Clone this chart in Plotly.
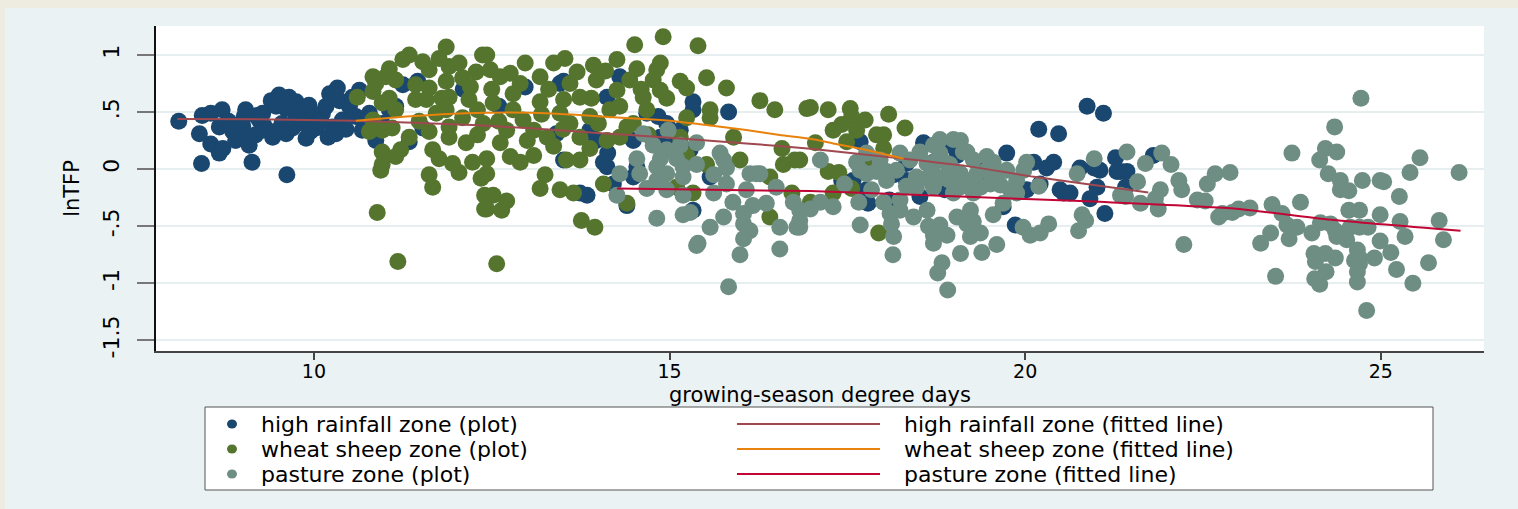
import plotly.graph_objects as go

# ---------------- data ----------------
hr_x = [8.10, 8.39, 8.43, 8.55, 8.71, 8.55, 8.67, 8.67, 8.72, 8.42, 8.86, 8.90, 9.04, 9.02, 9.09,
        8.99, 9.18, 9.28, 9.13, 9.23, 9.28, 9.40, 9.51, 9.65, 9.61, 9.47, 9.61, 9.42, 9.62, 9.75,
        9.84, 9.75, 9.89, 9.93, 10.03, 9.98, 10.12, 10.17, 10.22, 10.33, 10.31, 10.26, 10.40, 10.36,
        10.50, 10.54, 10.64, 10.59, 10.68, 10.78, 10.87, 10.96, 11.06, 11.15, 11.34, 11.46, 11.53,
        11.25, 9.30, 9.55, 9.70, 9.85, 10.10, 10.20, 9.95, 10.45, 9.20, 8.80, 9.00, 9.45,
        11.44, 12.97, 13.46, 13.51, 13.51, 13.41, 13.84, 13.74, 14.07, 14.12, 14.40, 14.49, 14.54,
        14.21, 15.33, 15.33, 15.83, 14.84, 14.96, 15.15, 15.33, 15.57, 15.29, 15.24, 13.88, 13.97,
        14.49, 14.30, 14.12, 14.68, 14.87, 15.05, 14.13, 12.10, 12.60,
        20.87, 21.10, 20.19, 20.47, 18.57, 19.74, 21.27, 17.42, 17.68, 18.15, 18.33, 18.71, 19.04,
        19.46, 19.60, 19.69, 19.86, 20.12, 20.30, 20.40, 20.02, 20.21, 20.49, 20.63, 20.77, 20.91,
        21.05, 21.01, 21.12, 21.34, 21.41, 18.52, 17.77, 17.58, 21.29, 21.43, 21.80, 17.79, 18.98,
        18.87, 19.33, 18.33, 18.09, 20.97, 20.54]
hr_y = [0.42, 0.31, 0.47, 0.49, 0.52, 0.22, 0.37, 0.14, 0.18, 0.05, 0.33, 0.25, 0.52, 0.46, 0.21,
        0.30, 0.30, 0.34, 0.06, 0.43, 0.49, 0.60, 0.65, 0.63, 0.53, 0.55, 0.31, 0.28, -0.05, 0.59,
        0.52, 0.45, 0.27, 0.56, 0.36, 0.46, 0.49, 0.55, 0.66, 0.71, 0.31, 0.37, 0.43, 0.60,
        0.55, 0.63, 0.69, 0.46, 0.34, 0.49, 0.25, 0.40, 0.52, 0.55, 0.24, 0.77, 0.36,
        0.74, 0.38, 0.40, 0.36, 0.40, 0.42, 0.28, 0.33, 0.35, 0.47, 0.42, 0.38, 0.33,
        0.75, 0.72, 0.75, 0.77, 0.08, 0.31, -0.23, -0.21, 0.06, 0.02, -0.32, -0.07, 0.02,
        -0.13, 0.59, 0.52, 0.50, 0.46, 0.40, 0.34, -0.36, -0.07, 0.17, 0.09, 0.34, 0.25,
        0.25, 0.81, 0.63, 0.49, 0.28, 0.25, 0.14, 0.70, 0.55,
        0.55, 0.49, 0.35, 0.31, 0.23, 0.14, 0.10, -0.10, 0.24, -0.05, -0.10, 0.06, 0.12,
        0.05, -0.05, -0.33, -0.49, 0.06, 0.01, 0.06, -0.18, -0.13, -0.18, -0.21, 0.01, -0.26,
        -0.01, -0.16, -0.39, -0.02, -0.16, -0.24, -0.18, -0.10, -0.02, -0.02, 0.12, -0.30, 0.20,
        -0.18, -0.04, 0.05, -0.27, 0.01, -0.21]

ws_x = [10.61, 10.83, 10.87, 11.06, 11.25, 11.34, 11.53, 11.62, 11.76, 11.86, 11.90, 12.04, 10.83,
        11.01, 11.15, 11.06, 11.15, 10.96, 10.83, 10.78, 10.96, 11.10, 10.96, 11.15, 11.22, 10.96,
        10.94, 10.89, 11.18, 11.34, 11.48, 11.43, 11.43, 11.62, 11.58, 11.72, 11.62, 11.67, 11.76,
        11.62, 11.67, 11.95, 12.04, 11.90, 11.90, 11.86, 11.90, 11.86, 12.09, 12.18, 12.09, 12.14,
        12.23, 12.28, 12.37, 12.35, 12.40, 12.40, 12.43, 12.48, 12.62, 12.76, 12.97, 13.18, 13.37,
        13.53, 13.93, 14.26, 14.51, 14.91, 15.40, 14.87, 14.82, 14.54, 15.15, 15.24, 15.52, 15.80,
        16.27, 16.48, 16.93, 14.96, 15.57, 15.57, 15.24, 15.15, 14.68, 14.49, 14.30, 14.12, 13.88,
        13.74, 13.55, 13.37, 13.28, 13.09, 12.90, 12.76, 12.62, 12.43, 12.43, 13.25, 13.18, 13.46,
        13.65, 14.07, 12.52, 12.71, 12.43, 12.64, 13.76, 13.95, 12.57, 14.40, 15.33, 15.10, 15.24,
        15.52, 15.99, 16.41, 16.58, 16.60, 16.76, 16.41, 16.72, 14.26, 13.74, 13.51, 13.18, 12.80,
        12.52, 12.94, 12.71, 12.38, 13.60, 13.88, 14.16, 13.97, 14.44, 14.77, 14.87, 14.63, 13.46,
        13.09, 13.74, 14.40, 16.98, 17.23, 17.54, 17.56, 17.75, 18.08, 17.42, 17.30, 17.63, 18.31,
        17.91, 18.01, 17.49, 17.05, 18.01, 17.75, 16.83, 17.23, 17.38, 17.30, 17.56, 16.98, 17.94,
        12.20, 12.50, 12.90, 13.30, 13.60, 13.90, 14.30, 14.60, 14.10, 13.70, 13.20, 12.80, 12.30,
        12.60, 13.00, 13.50, 14.00, 14.70, 12.30, 11.80, 15.90]
ws_y = [0.63, 0.68, 0.75, 0.88, 0.96, 1.00, 0.94, 0.87, 0.97, 1.07, 0.90, 0.93, 0.81,
        0.81, 0.78, 0.62, 0.52, 0.58, 0.43, 0.33, 0.34, 0.36, 0.15, 0.11, 0.17, 0.04,
        -0.01, -0.38, -0.81, 0.28, 0.42, 0.61, 0.74, 0.71, 0.61, 0.49, 0.33, 0.17, 0.09,
        -0.05, -0.16, 0.05, -0.03, 0.28, 0.37, 0.52, 0.63, 0.77, 0.80, 0.61, 0.45, 0.23,
        0.06, 0.85, 1.00, -0.08, -0.23, -0.35, 1.00, 0.87, 0.81, 0.84, 0.93, 0.81, 0.93,
        0.97, 0.91, 0.96, 1.09, 1.16, 1.08, 0.93, 0.87, 0.88, 0.77, 0.71, 0.80, 0.71,
        0.60, 0.52, 0.53, 0.62, 0.52, 0.45, 0.45, 0.28, 0.52, 0.40, 0.28, 0.25, 0.18,
        0.08, 0.08, 0.20, 0.28, 0.12, 0.06, 0.11, 0.23, 0.09, -0.04, -0.05, -0.17, -0.18,
        -0.21, -0.13, -0.23, -0.28, -0.35, -0.36, -0.45, -0.51, -0.83, -0.30, -0.21, -0.16, 0.12,
        0.04, 0.08, -0.07, 0.18, 0.04, 0.08, -0.42, -0.21, 0.69, 0.63, 0.61, 0.59, 0.66,
        0.58, 0.43, 0.34, 0.40, 0.40, 0.46, 0.52, 0.78, 0.78, 0.78, 0.69, 0.63, 0.49,
        0.34, 0.28, 0.37, 0.54, 0.52, 0.53, 0.46, 0.43, 0.48, 0.39, 0.34, 0.34, 0.36,
        0.30, 0.30, 0.24, 0.23, 0.18, 0.08, 0.08, -0.02, -0.03, -0.21, -0.17, -0.29, -0.56,
        0.72, 0.70, 0.75, 0.70, 0.75, 0.62, 0.55, 0.70, 0.86, 0.85, 0.48, 0.52, 0.52,
        0.42, 0.25, 0.35, 0.40, 0.30, 0.30, 0.62, 0.28]

pz_x = [14.63, 14.98, 14.77, 14.96, 15.15, 15.38, 14.54, 14.87, 15.10, 14.30, 14.58, 14.82, 14.96,
        15.19, 15.38, 15.19, 14.82, 14.68, 14.96, 15.19, 14.26, 15.62, 15.71, 15.76, 15.80, 15.62,
        15.80, 16.13, 16.27, 16.08, 15.89, 16.17, 16.36, 16.50, 16.74, 16.83, 15.76, 16.04, 14.82,
        15.19, 15.29, 15.57, 16.04, 16.13, 16.04, 16.55, 16.79, 15.38, 15.99, 16.55, 15.83, 16.22,
        15.40, 17.12, 16.98, 16.83, 17.30, 17.68, 17.66, 17.84, 18.01, 18.12, 18.15, 18.14, 18.10,
        18.24, 18.43, 18.62, 18.64, 18.80, 18.71, 18.71, 18.90, 19.04, 19.23, 19.18, 19.27, 19.37,
        19.23, 19.09, 19.39, 18.83, 18.77, 18.91, 19.55, 19.60, 19.69, 19.97, 20.07, 20.21, 20.33,
        20.75, 20.80, 20.85, 17.68, 17.77, 17.91, 18.19, 18.05, 18.33, 18.47, 18.62, 18.71, 18.80,
        18.94, 19.08, 19.23, 19.37, 19.51, 19.65, 19.79, 19.88, 19.98, 20.02, 20.19, 19.46, 19.55,
        19.27, 19.13, 18.90, 18.76, 18.62, 18.80, 18.71, 18.52, 18.38, 18.24, 18.05, 18.80, 18.99,
        19.09, 19.18, 18.94, 18.90, 18.71, 18.47, 19.09, 19.32, 19.46, 19.74, 19.60, 19.88, 19.27,
        18.99, 18.24, 17.46, 17.63, 17.77, 17.96, 17.12, 16.83, 20.73, 20.97, 21.43, 21.34, 21.92,
        21.69, 22.05, 21.58, 21.41, 21.62, 21.90, 21.83, 21.87, 22.16, 22.20, 22.23, 22.42, 22.53,
        22.56, 22.67, 22.88, 22.77, 22.91, 23.00, 23.16, 22.72, 23.31, 23.45, 23.52, 23.47, 23.61,
        23.68, 23.75, 23.82, 23.71, 23.87, 24.03, 24.06, 24.08, 24.07, 24.14, 24.15, 24.29, 24.22,
        24.14, 24.35, 24.38, 24.26, 24.43, 24.43, 24.55, 24.22, 24.36, 24.23, 24.36, 24.38, 24.55,
        24.70, 24.74, 24.72, 24.57, 24.70, 24.82, 24.52, 24.67, 24.70, 24.70, 24.63, 24.91, 24.67,
        24.67, 24.80, 24.99, 25.04, 24.99, 24.99, 25.14, 25.22, 25.26, 25.27, 25.34, 25.45, 25.41,
        25.55, 25.67, 25.82, 25.88, 26.10]
pz_y = [0.31, 0.34, 0.21, 0.17, 0.21, 0.23, 0.09, 0.09, 0.09, -0.04, -0.04, 0.02, -0.04,
        0.02, 0.04, -0.07, -0.10, -0.17, -0.18, -0.23, -0.23, -0.21, 0.14, 0.08, 0.01, -0.05,
        -0.13, -0.04, -0.04, -0.18, -0.29, -0.32, -0.30, -0.16, -0.29, -0.36, -0.42, -0.39, -0.43,
        -0.40, -0.38, -0.51, -0.48, -0.54, -0.61, -0.51, -0.51, -0.67, -0.75, -0.70, -1.03, -0.04,
        -0.65, 0.08, -0.35, -0.51, -0.33, -0.49, -0.29, -0.18, -0.29, -0.48, -0.59, -0.75, -0.39,
        -0.36, -0.42, -0.36, -0.50, -0.49, -0.58, -0.65, -0.58, -0.42, -0.36, -0.48, -0.46, -0.56,
        -0.59, -0.74, -0.73, -0.82, -0.91, -1.06, -0.40, -0.66, -0.30, -0.51, -0.58, -0.56, -0.48,
        -0.54, -0.40, -0.45, -0.01, -0.04, -0.02, -0.01, -0.10, -0.15, -0.16, -0.08, -0.16, -0.08,
        -0.10, -0.16, -0.10, -0.16, -0.13, -0.14, -0.18, -0.10, -0.01, 0.06, -0.15, 0.11, 0.06,
        0.08, 0.15, 0.05, 0.08, 0.05, 0.14, 0.21, 0.15, 0.08, 0.14, -0.02, 0.26, 0.26,
        0.25, 0.15, 0.04, -0.07, -0.04, -0.07, -0.04, -0.04, -0.01, -0.01, -0.07, -0.21, -0.21,
        -0.21, -0.27, -0.13, 0.06, 0.14, 0.08, -0.29, -0.45, -0.04, 0.09, 0.15, -0.23, 0.14,
        0.05, 0.04, -0.11, -0.24, -0.30, -0.18, -0.26, -0.35, -0.10, -0.18, -0.66, -0.27, -0.28,
        -0.13, -0.04, -0.03, -0.39, -0.38, -0.35, -0.34, -0.42, -0.65, -0.56, -0.94, -0.31, -0.39,
        -0.49, 0.14, -0.51, -0.61, -0.29, -0.56, -0.74, -0.81, -0.96, -1.01, -0.47, -0.48, 0.18,
        0.08, 0.37, 0.15, -0.04, -0.10, -0.18, -0.19, -0.74, -0.78, -0.90, -0.54, -0.59, -0.36,
        -0.36, -0.10, 0.62, -0.51, -0.51, -0.51, -0.62, -0.71, -0.78, -0.83, -0.80, -0.78, -0.90,
        -0.99, -1.24, -0.10, -0.11, -0.40, -0.63, -0.73, -0.88, -0.24, -0.46, -0.59, -1.00, -0.03,
        0.10, -0.82, -0.45, -0.62, -0.03]

hr_fit_x = [8.08, 9.18, 10.59, 12.23, 13.04, 13.74, 14.44, 15.15, 16.08, 16.98, 18.24, 19.18, 20.12, 21.48, 21.73]
hr_fit_y = [0.440, 0.436, 0.424, 0.386, 0.357, 0.327, 0.298, 0.269, 0.225, 0.178, 0.094, 0.026, -0.067, -0.184, -0.205]

ws_fit_x = [10.59, 11.30, 11.80, 12.42, 13.04, 13.74, 14.44, 15.01, 15.52, 16.08, 16.55, 16.98, 17.30, 17.77, 18.29]
ws_fit_y = [0.424, 0.460, 0.480, 0.494, 0.494, 0.474, 0.445, 0.424, 0.386, 0.342, 0.298, 0.265, 0.225, 0.167, 0.090]

pz_fit_x = [14.26, 16.98, 19.18, 21.05, 22.93, 24.34, 26.12]
pz_fit_y = [-0.170, -0.193, -0.243, -0.287, -0.345, -0.447, -0.541]

y_ticks = [-1.5, -1, -0.5, 0, 0.5, 1]
y_tick_labels = ["-1.5", "-1", "-.5", "0", ".5", "1"]
x_ticks = [10, 15, 20, 25]

x_title = "growing-season degree days"
y_title = "lnTFP"
series_names = ["high rainfall zone (plot)", "wheat sheep zone (plot)", "pasture zone (plot)"]
fit_names = ["high rainfall zone (fitted line)", "wheat sheep zone (fitted line)", "pasture zone (fitted line)"]

# ---------------- styling ----------------
NAVY = "#1A476F"
GREEN = "#55752F"
TEAL = "#6E8E84"
MAROON = "#A0484F"
ORANGE = "#E8820C"
CRANBERRY = "#C10534"
BG = "#EAF2F3"
BEIGE = "#EEEBE1"
FONT = "DejaVu Sans"

W, H = 1518, 509
L, R, T, B = 156, 34, 26, 158
PW, PH = W - L - R, H - T - B


def px_x(p):
    return (p - L) / PW


def px_y(p):
    return (H - B - p) / PH


fig = go.Figure()
msize = 17
for xs, ys, col, nm in [(hr_x, hr_y, NAVY, series_names[0]),
                        (ws_x, ws_y, GREEN, series_names[1]),
                        (pz_x, pz_y, TEAL, series_names[2])]:
    fig.add_trace(go.Scatter(x=xs, y=ys, mode="markers", name=nm, showlegend=False,
                             marker=dict(color=col, size=msize, line=dict(width=0))))

for xs, ys, col, nm in [(hr_fit_x, hr_fit_y, MAROON, fit_names[0]),
                        (ws_fit_x, ws_fit_y, ORANGE, fit_names[1]),
                        (pz_fit_x, pz_fit_y, CRANBERRY, fit_names[2])]:
    fig.add_trace(go.Scatter(x=xs, y=ys, mode="lines", name=nm, showlegend=False,
                             line=dict(color=col, width=2, shape="spline", smoothing=0.6)))

shapes = []
annotations = []
# beige outer strips
shapes.append(dict(type="rect", xref="paper", yref="paper", layer="above",
                   x0=px_x(0), x1=px_x(W), y0=px_y(8), y1=px_y(0),
                   fillcolor=BEIGE, line=dict(width=0)))
shapes.append(dict(type="rect", xref="paper", yref="paper", layer="above",
                   x0=px_x(0), x1=px_x(5), y0=px_y(H), y1=px_y(0),
                   fillcolor=BEIGE, line=dict(width=0)))

# x axis title
annotations.append(dict(xref="paper", yref="paper", x=0.5, y=px_y(395), text=x_title,
                        showarrow=False, xanchor="center", yanchor="middle",
                        font=dict(family=FONT, size=21, color="black")))

# legend box
shapes.append(dict(type="rect", xref="paper", yref="paper", layer="above",
                   x0=px_x(205), x1=px_x(1433), y0=px_y(490), y1=px_y(407),
                   fillcolor="white", line=dict(color="#555555", width=1)))
rows = [424, 449, 474]
for i, (col, lcol) in enumerate([(NAVY, MAROON), (GREEN, ORANGE), (TEAL, CRANBERRY)]):
    ry = px_y(rows[i])
    shapes.append(dict(type="circle", xref="paper", yref="paper", layer="above",
                       xsizemode="pixel", ysizemode="pixel",
                       xanchor=px_x(232), yanchor=ry, x0=-5, x1=5, y0=-4.5, y1=4.5,
                       fillcolor=col, line=dict(width=0)))
    shapes.append(dict(type="line", xref="paper", yref="paper", layer="above",
                       x0=px_x(737), x1=px_x(880), y0=ry, y1=ry,
                       line=dict(color=lcol, width=2)))
    annotations.append(dict(xref="paper", yref="paper", x=px_x(259), y=ry, text=series_names[i],
                            showarrow=False, xanchor="left", yanchor="middle",
                            font=dict(family=FONT, size=22, color="black")))
    annotations.append(dict(xref="paper", yref="paper", x=px_x(902), y=ry, text=fit_names[i],
                            showarrow=False, xanchor="left", yanchor="middle",
                            font=dict(family=FONT, size=22, color="black")))

fig.update_layout(
    width=W, height=H,
    margin=dict(l=L, r=R, t=T, b=B),
    paper_bgcolor=BG, plot_bgcolor="white",
    showlegend=False,
    shapes=shapes, annotations=annotations,
    font=dict(family=FONT, color="black"),
    xaxis=dict(range=[7.78, 26.45], tickvals=x_ticks, showgrid=False, zeroline=False,
               showline=True, linecolor="#444444", linewidth=1.5,
               ticks="outside", ticklen=7, tickwidth=1.5, tickcolor="#444444",
               ticklabelstandoff=-5,
               tickfont=dict(family=FONT, size=19, color="black")),
    yaxis=dict(range=[-1.594, 1.254], tickvals=y_ticks, ticktext=y_tick_labels, tickangle=-90,
               showgrid=True, gridcolor="#E6EEF0", gridwidth=2, zeroline=False,
               showline=True, linecolor="#111111", linewidth=2,
               ticks="outside", ticklen=17, tickwidth=1.5, tickcolor="#777777",
               ticklabelstandoff=9,
               tickfont=dict(family=FONT, size=22, color="black"),
               title=dict(text=y_title, standoff=14,
                          font=dict(family=FONT, size=21, color="black"))),
)

fig.write_html("out.html", config={"displayModeBar": False},
               post_script="document.body.style.margin='0px';")
